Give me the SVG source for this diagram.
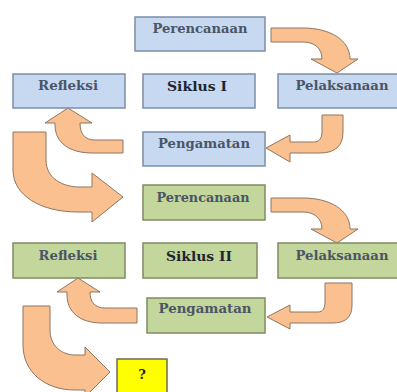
<svg xmlns="http://www.w3.org/2000/svg" width="397" height="392" viewBox="0 0 397 392">
<style>
.b{fill:#C6D9F1;stroke:#7C8DA6;stroke-width:1.5}
.g{fill:#C3D69B;stroke:#7E8C62;stroke-width:1.5}
.y{fill:#FFFF00;stroke:#6b6b55;stroke-width:1.5}
.a{fill:#FAC090;stroke:#8E7660;stroke-width:1}
text{font-family:"DejaVu Serif","Liberation Serif",serif;font-size:13px;font-weight:bold;fill:#4A5566;text-anchor:middle}
.s{fill:#1e2530}
</style>
<rect width="397" height="392" fill="#fff"/>
<g id="connectors">
<path class="a" d="M271,28 L303,28 C330,28 350,40 350,59 L358,59 L337,73 L311,59 L322,59 C322,48 314,42 303,42 L271,42 Z"/>
<path class="a" d="M322,115 L343,115 L343,132 C343,146 335,153 320,153 L290,153 L290,162 L266,148 L290,135 L290,142 L314,142 C319,142 322,138 322,132 Z"/>
<path class="a" d="M123,140 L123,153 L92,153 C70,153 55,143 55,125 L55,123 L45,123 L68,108 L92,123 L80,123 C80,134 85,140 95,140 Z"/>
<path class="a" d="M13,132 L46,132 L46,160 C46,178 62,187 80,187 L92,187 L92,173 L123,197 L92,222 L92,212 L78,212 C40,212 13,195 13,170 Z"/>
<path class="a" d="M271,198 L303,198 C330,198 350,210 350,229 L358,229 L337,243 L311,229 L322,229 C322,218 314,212 303,212 L271,212 Z"/>
<path class="a" d="M325,283 L352,283 L352,305 C352,318 345,323 332,323 L290,323 L290,329 L267,317 L290,305 L290,312 L318,312 C323,312 325,308 325,302 Z"/>
<path class="a" d="M137,308 L137,323 L102,323 C80,323 67,312 67,295 L67,292 L57,292 L78,278 L100,292 L90,292 C90,302 95,308 105,308 Z"/>
<path class="a" d="M23,306 L50,306 L50,330 C50,346 62,355 75,355 L85,355 L85,347 L110,372 L85,397 L85,390 L75,390 C45,390 23,372 23,345 Z"/>
</g>
<g id="perencanaan1"><rect class="b" x="135" y="17" width="130" height="34"/><text x="200" y="33" textLength="95" lengthAdjust="spacingAndGlyphs">Perencanaan</text></g>
<g id="refleksi1"><rect class="b" x="13" y="74" width="112" height="34"/><text x="68" y="90" textLength="60" lengthAdjust="spacingAndGlyphs">Refleksi</text></g>
<g id="siklus1"><rect class="b" x="143" y="74" width="112" height="34"/><text class="s" x="197" y="91" textLength="60" lengthAdjust="spacingAndGlyphs">Siklus I</text></g>
<g id="pelaksanaan1"><rect class="b" x="278" y="74" width="122" height="34"/><text x="342" y="90" textLength="93" lengthAdjust="spacingAndGlyphs">Pelaksanaan</text></g>
<g id="pengamatan1"><rect class="b" x="143" y="132" width="122" height="34"/><text x="204" y="148" textLength="92" lengthAdjust="spacingAndGlyphs">Pengamatan</text></g>
<g id="perencanaan2"><rect class="g" x="143" y="185" width="122" height="35"/><text x="203" y="202" textLength="93" lengthAdjust="spacingAndGlyphs">Perencanaan</text></g>
<g id="refleksi2"><rect class="g" x="13" y="243" width="112" height="35"/><text x="68" y="260" textLength="59" lengthAdjust="spacingAndGlyphs">Refleksi</text></g>
<g id="siklus2"><rect class="g" x="143" y="243" width="114" height="35"/><text class="s" x="199" y="261" textLength="66" lengthAdjust="spacingAndGlyphs">Siklus II</text></g>
<g id="pelaksanaan2"><rect class="g" x="278" y="243" width="122" height="35"/><text x="342" y="260" textLength="93" lengthAdjust="spacingAndGlyphs">Pelaksanaan</text></g>
<g id="pengamatan2"><rect class="g" x="147" y="298" width="118" height="35"/><text x="205" y="313" textLength="93" lengthAdjust="spacingAndGlyphs">Pengamatan</text></g>
<g id="question"><rect class="y" x="117" y="359" width="50" height="40"/><text class="s" x="142" y="379">?</text></g>
</svg>
